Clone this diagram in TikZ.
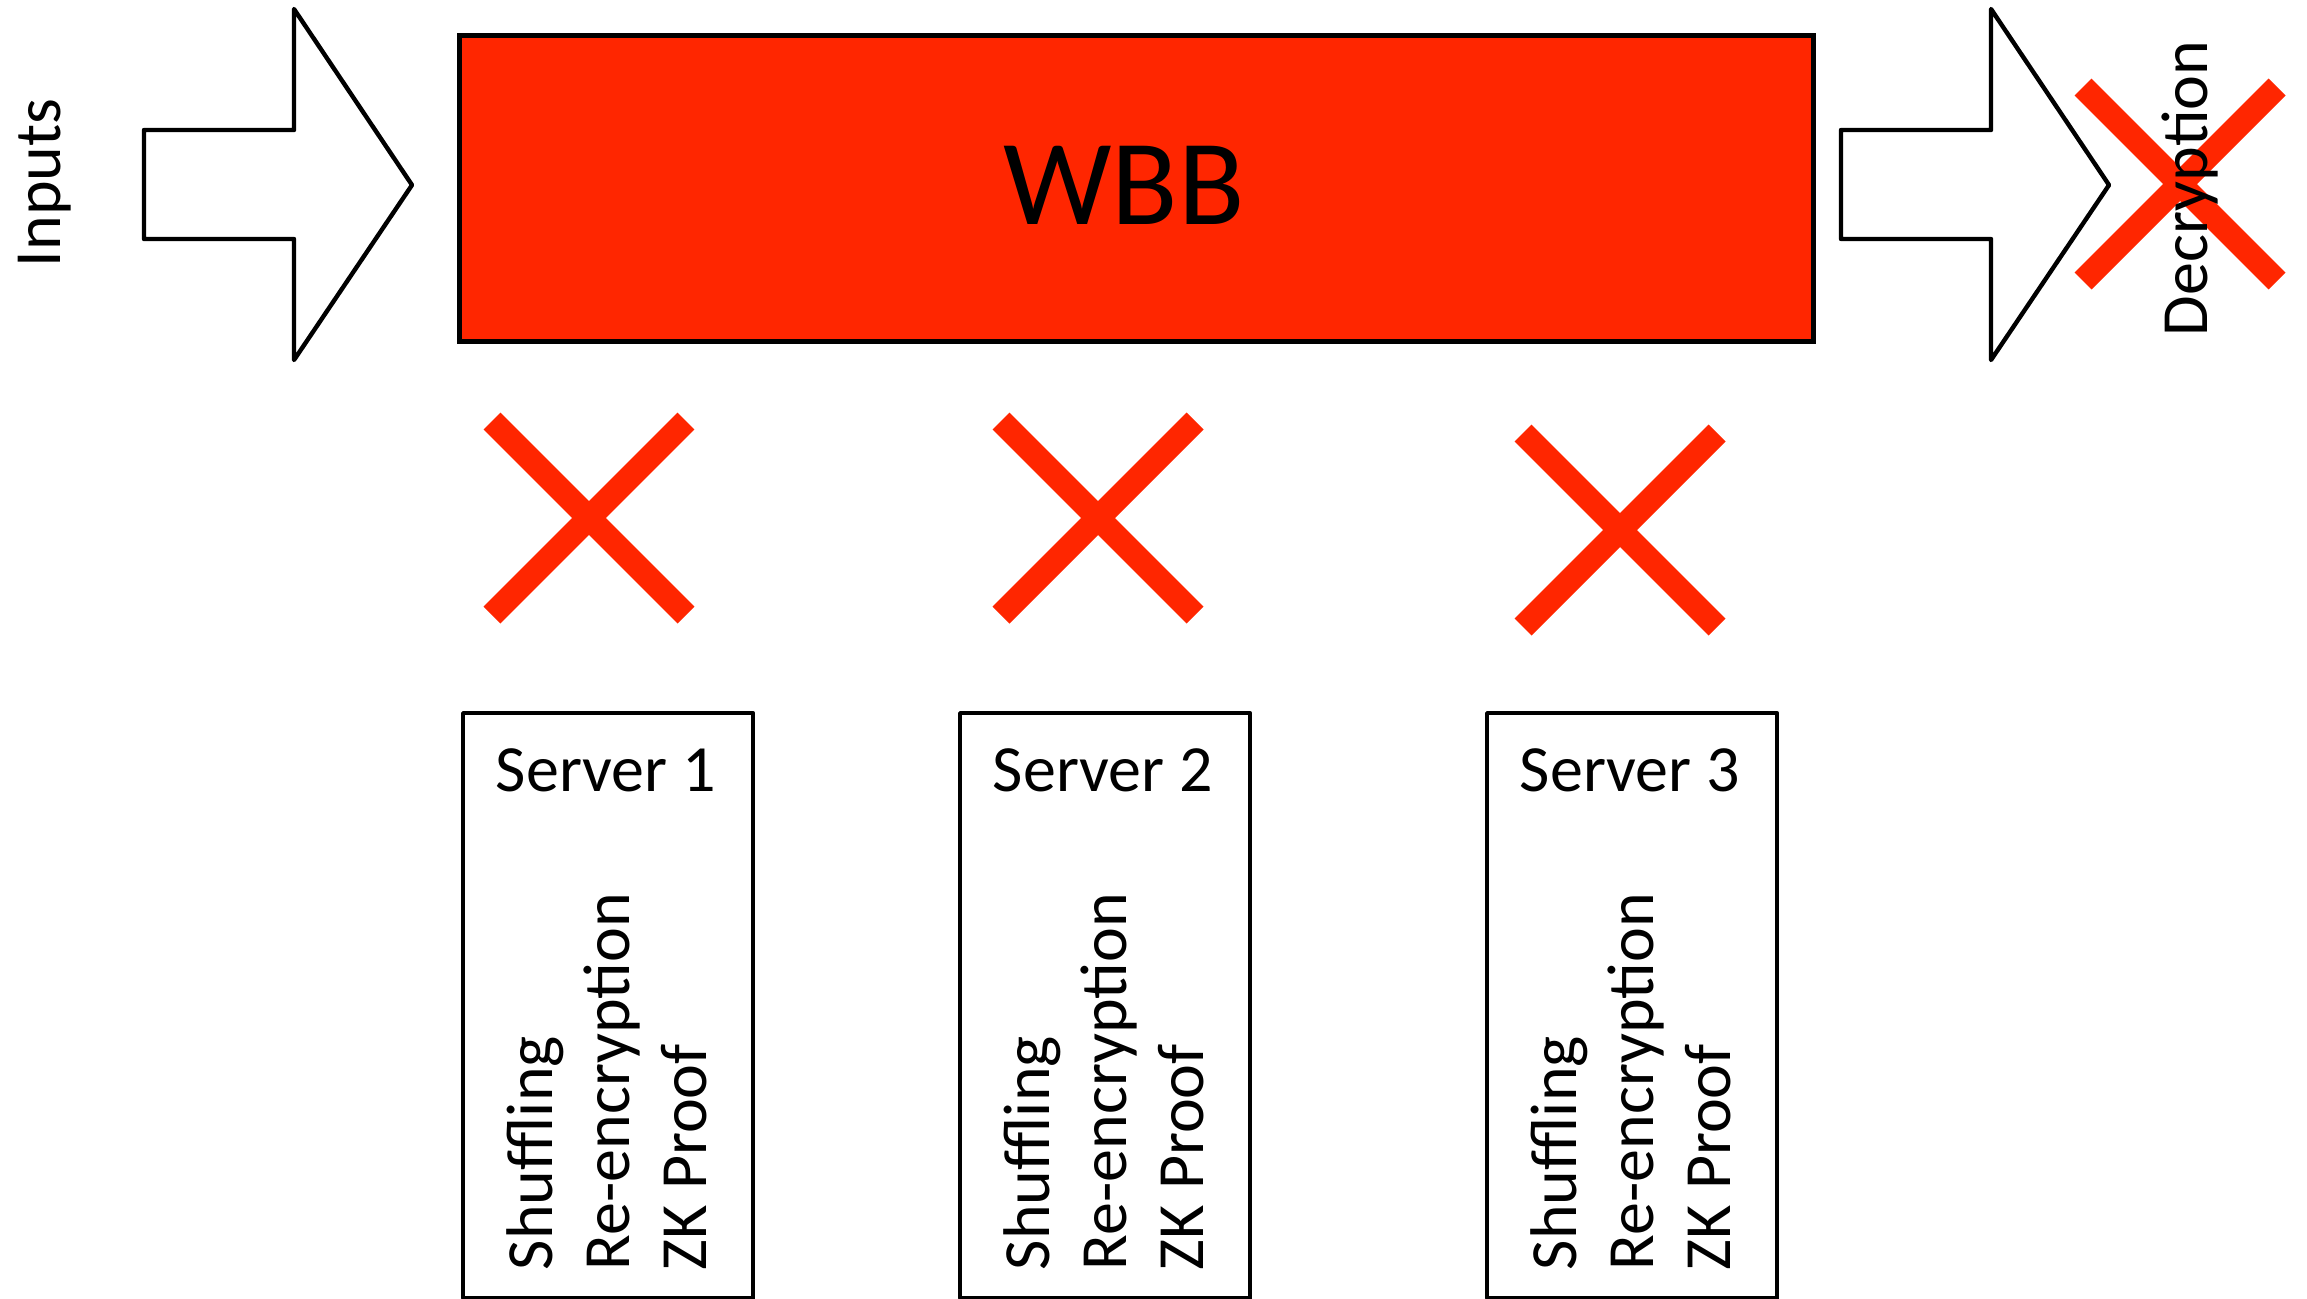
\documentclass[tikz,border=0pt]{standalone}
\usepackage{fontspec}
\setmainfont{Carlito}
\definecolor{alarm}{RGB}{255,38,0}
\begin{document}
\begin{tikzpicture}[x=0.5pt,y=-0.5pt,
  outline/.style={draw=black, line width=2.2pt, line join=round},
  cross/.style={draw=alarm, line width=12pt, line cap=butt},
  txt/.style={inner sep=0pt, outer sep=0pt, font=\fontsize{33}{40}\selectfont},
  vtxt/.style={txt, rotate=90, anchor=base west},
  serverbox/.style={outline, fill=white, inner sep=0pt, minimum width=145pt,
    minimum height=292.5pt, anchor=north west},
  redx/.pic={
    \draw[cross] (-97,-97) -- (97,97);
    \draw[cross] (-97,97) -- (97,-97);
  }]
\useasboundingbox (0,0) rectangle (2307,1298);
\fill[white] (0,0) rectangle (2307,1298);

% input and output block arrows
\draw[outline, fill=white] (144,130) -- (294,130) -- (294,9) -- (412,185)
  -- (294,360) -- (294,239) -- (144,239) -- cycle;
\draw[outline, fill=white] (1841,130) -- (1991,130) -- (1991,9) -- (2109,185)
  -- (1991,360) -- (1991,239) -- (1841,239) -- cycle;
\node (inputs) [vtxt] at (60,267) {Inputs};

% bulletin board
\node (wbb) [draw=black, line width=2.5pt, fill=alarm, inner sep=0pt,
  minimum width=677pt, minimum height=153pt, anchor=north west] at (457,33) {};
\node (wbbtext) [txt, font=\fontsize{61}{72}\selectfont, anchor=base] at (1124,224) {WBB};

% crossed-out links
\pic at (589,518) {redx};
\pic at (1098,518) {redx};
\pic at (1620,530) {redx};
\pic at (2180,184) {redx};
\node (decryption) [vtxt] at (2207,336) {Decryption};

% mix servers
\foreach \i/\x in {1/461, 2/958, 3/1485} {
  \node (server\i) [serverbox] at (\x,711) {};
  \node (title\i) [txt, anchor=base] at (\x+145,791) {Server \i};
  \node (shuf\i) [vtxt] at (\x+91,1270) {Shuffling};
  \node (reenc\i) [vtxt] at (\x+168,1270) {Re-encryption};
  \node (zkp\i) [vtxt] at (\x+245,1270) {ZK Proof};
}
\end{tikzpicture}
\end{document}
